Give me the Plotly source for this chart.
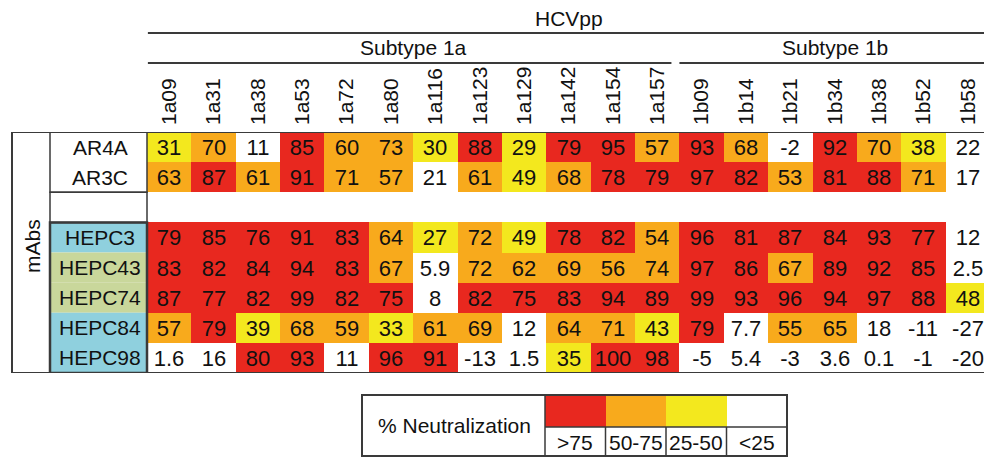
import plotly.graph_objects as go

# page body has an 8px default margin, so the figure is laid out in reference pixels shifted by 8
OFF = 8
W, H = 992 - OFF, 457 - OFF

# ---------------- data ----------------
strains = ["1a09", "1a31", "1a38", "1a53", "1a72", "1a80", "1a116", "1a123", "1a129",
           "1a142", "1a154", "1a157", "1b09", "1b14", "1b21", "1b34", "1b38", "1b52", "1b58"]
subtypes = [("Subtype 1a", 0, 11), ("Subtype 1b", 12, 18)]
top_header = "HCVpp"

row_labels = ["AR4A", "AR3C", "", "HEPC3", "HEPC43", "HEPC74", "HEPC84", "HEPC98"]
row_label_fill = ["#ffffff", "#ffffff", "#ffffff", "#8fd0de", "#c9d79b", "#c9d79b", "#8fd0de", "#8fd0de"]

AR4A = [31, 70, 11, 85, 60, 73, 30, 88, 29, 79, 95, 57, 93, 68, -2, 92, 70, 38, 22]
AR3C = [63, 87, 61, 91, 71, 57, 21, 61, 49, 68, 78, 79, 97, 82, 53, 81, 88, 71, 17]
SPACER = [None] * 19
HEPC3 = [79, 85, 76, 91, 83, 64, 27, 72, 49, 78, 82, 54, 96, 81, 87, 84, 93, 77, 12]
HEPC43 = [83, 82, 84, 94, 83, 67, 5.9, 72, 62, 69, 56, 74, 97, 86, 67, 89, 92, 85, 2.5]
HEPC74 = [87, 77, 82, 99, 82, 75, 8, 82, 75, 83, 94, 89, 99, 93, 96, 94, 97, 88, 48]
HEPC84 = [57, 79, 39, 68, 59, 33, 61, 69, 12, 64, 71, 43, 79, 7.7, 55, 65, 18, -11, -27]
HEPC98 = [1.6, 16, 80, 93, 11, 96, 91, -13, 1.5, 35, 100, 98, -5, 5.4, -3, 3.6, 0.1, -1, -20]
rows = [AR4A, AR3C, SPACER, HEPC3, HEPC43, HEPC74, HEPC84, HEPC98]

# neutralization bins (category index 0..3)
bin_edges = [25, 50, 75]
bin_colors = ["#ffffff", "#f3e81e", "#f8aa1c", "#e8281f"]   # <25, 25-50, 50-75, >75
legend_title = "% Neutralization"
legend_labels = [">75", "50-75", "25-50", "<25"]
legend_bins = [3, 2, 1, 0]


def to_bin(v):
    if v is None:
        return None
    b = 0
    for e in bin_edges:
        if v >= e:
            b += 1
    return b


z = [[to_bin(v) for v in r] for r in rows]
txt = [["" if v is None else f"{v:g}" for v in r] for r in rows]

# discrete colorscale
cs = []
n = len(bin_colors)
for i, c in enumerate(bin_colors):
    cs.append([i / n, c])
    cs.append([(i + 1) / n, c])

FONT = "Liberation Sans, Arial, Helvetica, sans-serif"
LINE = "#3a3a3a"
TXT = "#111111"


def px(x):
    return (x - OFF) / W


def py(y):
    return 1 - (y - OFF) / H


fig = go.Figure()
fig.add_trace(go.Heatmap(
    z=z, x=strains, y=list(range(len(rows))), text=txt, texttemplate="%{text}",
    textfont=dict(size=22, color=TXT, family=FONT),
    colorscale=cs, zmin=-0.5, zmax=n - 0.5, showscale=False, hoverinfo="skip",
    xgap=0, ygap=0,
))

# legend swatches as a small heatmap
fig.add_trace(go.Heatmap(
    z=[legend_bins], x=list(range(len(legend_bins))), y=[0],
    colorscale=cs, zmin=-0.5, zmax=n - 0.5, showscale=False, hoverinfo="skip",
    xaxis="x2", yaxis="y2",
))

shapes = []
annotations = []

# row label backgrounds and labels
for i, (lab, fill) in enumerate(zip(row_labels, row_label_fill)):
    shapes.append(dict(type="rect", xref="paper", yref="y", x0=px(50), x1=px(147),
                       y0=i - 0.5, y1=i + 0.5, fillcolor=fill, line=dict(width=0), layer="below"))
    if lab:
        annotations.append(dict(text=lab, xref="paper", yref="y", x=px(100), y=i, showarrow=False,
                                font=dict(size=21, color=TXT, family=FONT), xanchor="center", yanchor="middle"))

nrows = len(rows)
# table borders
shapes.append(dict(type="rect", xref="paper", yref="y", x0=px(12), x1=px(990), y0=-0.5, y1=nrows - 0.5,
                   line=dict(color=LINE, width=2)))
shapes.append(dict(type="rect", xref="paper", yref="y", x0=px(50), x1=px(147), y0=-0.5, y1=1.5,
                   line=dict(color=LINE, width=1.5)))
shapes.append(dict(type="rect", xref="paper", yref="y", x0=px(50), x1=px(147), y0=1.5, y1=2.5,
                   line=dict(color=LINE, width=1.5)))
shapes.append(dict(type="rect", xref="paper", yref="y", x0=px(50), x1=px(147), y0=2.5, y1=nrows - 0.5,
                   line=dict(color=LINE, width=2.5)))

annotations.append(dict(text="mAbs", xref="paper", yref="paper", x=px(32), y=py(246),
                        xanchor="center", yanchor="middle",
                        textangle=-90, showarrow=False, font=dict(size=21, color=TXT, family=FONT)))

# header: HCVpp + subtype groups
ncol = len(strains)
annotations.append(dict(text=top_header, xref="x", yref="paper", x=(ncol - 1) / 2, y=py(18),
                        xanchor="center", showarrow=False, font=dict(size=21, color=TXT, family=FONT),
                        yanchor="middle"))
shapes.append(dict(type="line", xref="x", yref="paper", x0=-0.48, x1=ncol - 0.5, y0=py(33), y1=py(33),
                   line=dict(color=LINE, width=2)))
for name, a, b in subtypes:
    annotations.append(dict(text=name, xref="x", yref="paper", x=(a + b) / 2, y=py(48),
                            xanchor="center", showarrow=False, font=dict(size=21, color=TXT, family=FONT),
                            yanchor="middle"))
    x0 = a - 0.48 if a == 0 else a - 0.5
    x1 = b + 0.32 if b < ncol - 1 else b + 0.5
    shapes.append(dict(type="line", xref="x", yref="paper", x0=x0, x1=x1, y0=py(63), y1=py(63),
                       line=dict(color=LINE, width=2)))

# legend table
LB = 456
shapes.append(dict(type="rect", xref="paper", yref="paper", x0=px(362), x1=px(787), y0=py(LB), y1=py(395),
                   line=dict(color=LINE, width=2)))
shapes.append(dict(type="line", xref="paper", yref="paper", x0=px(545), x1=px(545), y0=py(LB), y1=py(395),
                   line=dict(color=LINE, width=1.5)))
shapes.append(dict(type="line", xref="paper", yref="paper", x0=px(545), x1=px(787), y0=py(427), y1=py(427),
                   line=dict(color=LINE, width=1.5)))
for k in range(1, len(legend_labels)):
    shapes.append(dict(type="line", xref="x2", yref="paper", x0=k - 0.5, x1=k - 0.5, y0=py(LB), y1=py(427),
                       line=dict(color=LINE, width=1.5)))
annotations.append(dict(text=legend_title, xref="paper", yref="paper", x=px(454), y=py(425),
                        xanchor="center", showarrow=False, font=dict(size=21, color=TXT, family=FONT),
                        yanchor="middle"))
for k, lab in enumerate(legend_labels):
    annotations.append(dict(text=lab, xref="x2", yref="paper", x=k, y=py(442), xanchor="center",
                            showarrow=False, font=dict(size=21, color=TXT, family=FONT), yanchor="middle"))

fig.update_layout(
    width=W, height=H, margin=dict(l=0, r=0, t=0, b=0),
    paper_bgcolor="white", plot_bgcolor="white",
    font=dict(family=FONT, color=TXT),
    xaxis=dict(domain=[px(147), px(990)], range=[-0.5, ncol - 0.5], side="top", type="category",
               tickangle=-90, tickfont=dict(size=21, color=TXT, family=FONT), showgrid=False,
               zeroline=False, showline=False, ticks="", ticklabelstandoff=6, fixedrange=True),
    yaxis=dict(domain=[py(373), py(132)], range=[nrows - 0.5, -0.5], showticklabels=False,
               showgrid=False, zeroline=False, showline=False, ticks="", fixedrange=True),
    xaxis2=dict(domain=[px(545), px(787)], range=[-0.5, len(legend_labels) - 0.5], anchor="y2",
                visible=False, fixedrange=True),
    yaxis2=dict(domain=[py(427), py(395)], range=[-0.5, 0.5], anchor="x2", visible=False, fixedrange=True),
    shapes=shapes, annotations=annotations, showlegend=False,
)

fig.write_html("out.html")
